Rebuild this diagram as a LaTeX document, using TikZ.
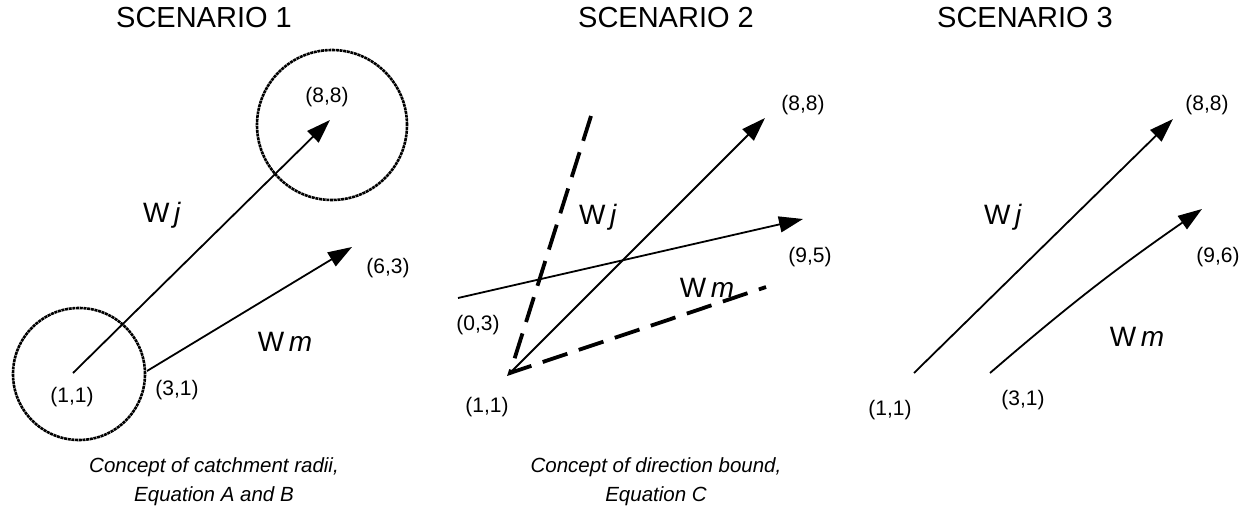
\documentclass[tikz,border=0pt]{standalone}
\usepackage{fontspec}
\setmainfont{Liberation Sans}
\usetikzlibrary{arrows.meta}

\begin{document}
\begin{tikzpicture}[x=1pt, y=-1pt,
      vec/.style={line width=1.8pt, -{Triangle[length=24pt, width=16pt]}},
      bound/.style={line width=3.8pt, dash pattern=on 26pt off 12pt},
      catch/.style={draw, circle, line width=2.6pt, dash pattern=on 3pt off 0.7pt, inner sep=0pt},
      ttl/.style={font=\fontsize{29}{34}\selectfont},
      ptlbl/.style={font=\fontsize{21}{25}\selectfont},
      wlbl/.style={font=\fontsize{28}{33}\selectfont},
      captxt/.style={font=\itshape\fontsize{20.5}{29}\selectfont, align=center}]

    \useasboundingbox (0,0) rectangle (1251,514);

    % titles
    \node[ttl] (ttl1) at (204,18) {SCENARIO 1};
    \node[ttl] (ttl2) at (666,18) {SCENARIO 2};
    \node[ttl] (ttl3) at (1025,18) {SCENARIO 3};

    % scenario 1: catchment radii
    \node[catch, minimum size=132pt] (rad1) at (79,374) {};
    \node[catch, minimum size=150pt] (rad2) at (332,125) {};
    \coordinate (s1a) at (73,373);
    \coordinate (s1b) at (330,120);
    \coordinate (s1c) at (147,371);
    \coordinate (s1d) at (352,247);
    \draw[vec] (s1a) -- (s1b);
    \draw[vec] (s1c) -- (s1d);
    \node[ptlbl] (p11) at (72,397) {(1,1)};
    \node[ptlbl] (p31) at (177,390) {(3,1)};
    \node[ptlbl] (p88) at (327,97) {(8,8)};
    \node[ptlbl] (p63) at (388,268) {(6,3)};
    \node[wlbl] (wj1) at (162,215) {W\,\textit{j}};
    \node[wlbl] (wm1) at (285,342) {W\,\textit{m}};
    \node[captxt] (cap1) at (214,482) {Concept of catchment radii,\\ Equation A and B};

    % scenario 2: direction bound
    \coordinate (s2a) at (510,373);
    \coordinate (s2u) at (591,116);
    \coordinate (s2r) at (766,287);
    \coordinate (s2b) at (765,118);
    \coordinate (s2c) at (458,298);
    \coordinate (s2d) at (803,219);
    \draw[bound] (s2u) -- (s2a) -- (s2r);
    \draw[vec] (s2a) -- (s2b);
    \draw[vec] (s2c) -- (s2d);
    \node[ptlbl] (q88) at (803,105) {(8,8)};
    \node[ptlbl] (q95) at (810,257) {(9,5)};
    \node[ptlbl] (q03) at (478,325) {(0,3)};
    \node[ptlbl] (q11) at (487,407) {(1,1)};
    \node[wlbl] (wj2) at (598,217) {W\,\textit{j}};
    \node[wlbl] (wm2) at (707,288) {W\,\textit{m}};
    \node[captxt] (cap2) at (656,482) {Concept of direction bound,\\ Equation C};

    % scenario 3
    \coordinate (s3a) at (914,373);
    \coordinate (s3b) at (1173,119);
    \coordinate (s3c) at (990,373);
    \coordinate (s3d) at (1202,209);
    \draw[vec] (s3a) -- (s3b);
    \draw[vec] (s3c) to[bend left=3] (s3d);
    \node[ptlbl] (r11) at (890,410) {(1,1)};
    \node[ptlbl] (r31) at (1023,400) {(3,1)};
    \node[ptlbl] (r88) at (1207,105) {(8,8)};
    \node[ptlbl] (r96) at (1218,257) {(9,6)};
    \node[wlbl] (wj3) at (1003,217) {W\,\textit{j}};
    \node[wlbl] (wm3) at (1137,337) {W\,\textit{m}};
  \end{tikzpicture}
\end{document}
